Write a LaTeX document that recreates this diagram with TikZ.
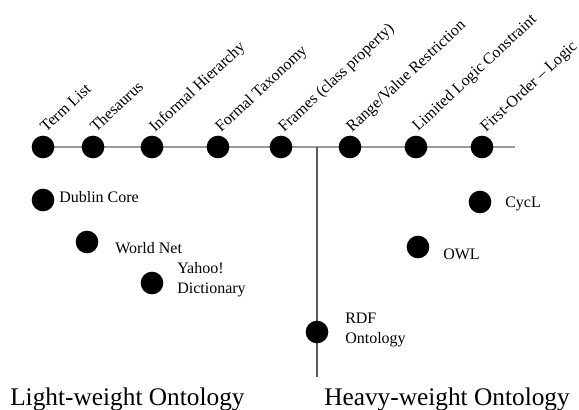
\documentclass[tikz,border=0pt]{standalone}
\usepackage{fontspec}
\setmainfont{Liberation Serif}
\begin{document}
\begin{tikzpicture}[x=0.75pt,y=0.75pt,yscale=-1,xscale=1,
  dot/.style={circle, fill=black, inner sep=0pt, minimum size=17pt},
  tag/.style={anchor=base west, inner sep=0pt, font=\fontsize{12}{14.5}\selectfont},
  tilt/.style={tag, rotate=43},
  side/.style={tag, align=left},
  big/.style={anchor=base west, inner sep=0pt, font=\fontsize{19}{23}\selectfont}]

\useasboundingbox (0,0) rectangle (579,410);

\coordinate (axisend) at (515,147);
\coordinate (split) at (317,147);
\coordinate (foot) at (317,377);

\draw [gray!80, line width=1pt] (43,147) -- (axisend);
\draw [black!65, line width=1pt] (split) -- (foot);

\node [dot] (term) at (43,147) {};
\node [dot] (thes) at (93,147) {};
\node [dot] (infh) at (152,147) {};
\node [dot] (taxo) at (218,147) {};
\node [dot] (frames) at (281,147) {};
\node [dot] (range) at (350,147) {};
\node [dot] (limited) at (416,147) {};
\node [dot] (firstorder) at (482,147) {};

\node [tilt] (termtxt) at (46,133) {Term List};
\node [tilt] (thestxt) at (96,133) {Thesaurus};
\node [tilt] (infhtxt) at (155,133) {Informal Hierarchy};
\node [tilt] (taxotxt) at (221,133) {Formal Taxonomy};
\node [tilt] (framestxt) at (284,133) {Frames (class property)};
\node [tilt] (rangetxt) at (352,133) {Range/Value Restriction};
\node [tilt] (limitedtxt) at (418,132) {Limited Logic Constraint};
\node [tilt] (firsttxt) at (486,133) {First-Order -- Logic};

\node [dot] (dublin) at (43,200) {};
\node [dot] (wordnet) at (87,242) {};
\node [dot] (yahoo) at (152,283) {};
\node [dot] (cycl) at (480,202) {};
\node [dot] (owl) at (418,247) {};
\node [dot] (rdf) at (317,332) {};

\node [side] (dublintxt) at (59,202) {Dublin Core};
\node [side] (wordnettxt) at (115,253) {World Net};
\node [side] (yahootxt) at (177,293) {Yahoo!\\Dictionary};
\node [side] (cycltxt) at (505,207) {CycL};
\node [side] (owltxt) at (443,259) {OWL};
\node [side] (rdftxt) at (345,343) {RDF\\Ontology};

\node [big] (light) at (10,405) {Light-weight Ontology};
\node [big] (heavy) at (324,405) {Heavy-weight Ontology};

\end{tikzpicture}
\end{document}
